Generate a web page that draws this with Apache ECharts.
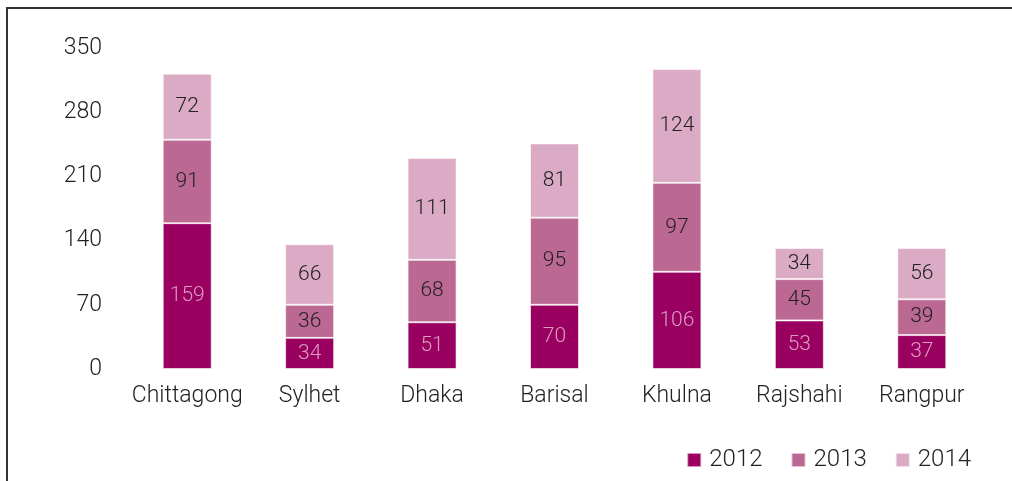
<!DOCTYPE html>
<html>
<head>
<meta charset="utf-8">
<script src="https://cdn.jsdelivr.net/npm/echarts@6/dist/echarts.min.js"></script>
<style>
  html, body { margin: 0; padding: 0; background: #fff; }
  #chart { width: 1012px; height: 481px; }
</style>
</head>
<body>
<div id="chart"></div>
<script>
// Regions and yearly counts
const regions = ['Chittagong', 'Sylhet', 'Dhaka', 'Barisal', 'Khulna', 'Rajshahi', 'Rangpur'];
const years = ['2012', '2013', '2014'];
const values2012 = [159, 34, 51, 70, 106, 53, 37];
const values2013 = [91, 36, 68, 95, 97, 45, 39];
const values2014 = [72, 66, 111, 81, 124, 34, 56];
const yTicks = [0, 70, 140, 210, 280, 350];

const colors = ['#990060', '#bb6892', '#dbaac5'];
const labelColors = ['#dc9cc0', '#222', '#222'];
const fontFamily = 'Roboto, "Liberation Sans", sans-serif';

const chart = echarts.init(document.getElementById('chart'));

const seriesData = [values2012, values2013, values2014];

chart.setOption({
  animation: false,
  color: colors,
  textStyle: { fontFamily: fontFamily },
  graphic: [{
    type: 'polyline',
    shape: { points: [[7, 481], [7, 8], [1012, 8]] },
    style: { stroke: '#333', lineWidth: 2, fill: null }
  }],
  grid: { left: 126, right: 29, top: 48, bottom: 112 },
  legend: {
    right: 36,
    bottom: 4,
    itemWidth: 14,
    itemHeight: 14,
    itemGap: 28,
    icon: 'rect',
    textStyle: { fontSize: 24, color: '#222', fontWeight: 300, fontFamily: fontFamily, padding: [0, 0, 0, 3] },
    data: years
  },
  xAxis: {
    type: 'category',
    data: regions,
    axisLine: { show: false },
    axisTick: { show: false },
    axisLabel: { interval: 0, fontSize: 23, color: '#222', fontWeight: 300, margin: 16 }
  },
  yAxis: {
    type: 'value',
    min: yTicks[0],
    max: yTicks[yTicks.length - 1],
    interval: 70,
    splitLine: { show: false },
    axisLine: { show: false },
    axisTick: { show: false },
    axisLabel: { fontSize: 23, color: '#222', fontWeight: 300, margin: 24 }
  },
  series: years.map((y, i) => ({
    name: y,
    type: 'bar',
    stack: 'total',
    barWidth: 49,
    data: seriesData[i],
    itemStyle: { borderColor: 'rgba(255,255,255,0.6)', borderWidth: 1 },
    label: {
      show: true,
      position: 'inside',
      fontSize: 21,
      fontWeight: 300,
      color: labelColors[i],
      fontFamily: fontFamily
    }
  }))
});
</script>
</body>
</html>
